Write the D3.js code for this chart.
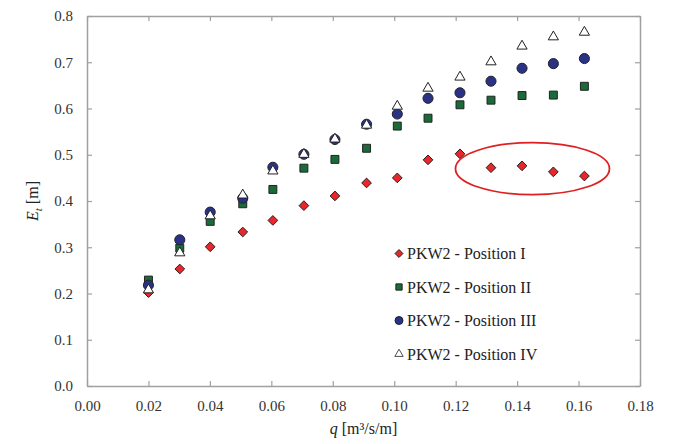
<!DOCTYPE html>
<html>
<head>
<meta charset="utf-8">
<script src="https://cdn.jsdelivr.net/npm/d3@7"></script>
<style>
body { margin: 0; background: #fff; }
</style>
</head>
<body>
<div id="chart"></div>
<script>
// discharge per unit width q [m3/s/m]
var qVals = [0.0200, 0.0302, 0.0401, 0.0507, 0.0605, 0.0706, 0.0807, 0.0910, 0.1010, 0.1110, 0.1214, 0.1315, 0.1416, 0.1518, 0.1619];
// Et [m] per position
var posI   = [0.202, 0.253, 0.301, 0.333, 0.358, 0.390, 0.411, 0.439, 0.450, 0.489, 0.502, 0.472, 0.476, 0.463, 0.454];
var posII  = [0.229, 0.298, 0.356, 0.394, 0.425, 0.471, 0.490, 0.514, 0.562, 0.579, 0.608, 0.618, 0.628, 0.629, 0.648];
var posIII = [0.218, 0.316, 0.376, 0.406, 0.473, 0.501, 0.533, 0.566, 0.588, 0.622, 0.634, 0.659, 0.687, 0.697, 0.708];
var posIV  = [0.210, 0.290, 0.370, 0.415, 0.467, 0.503, 0.536, 0.566, 0.607, 0.646, 0.670, 0.703, 0.737, 0.757, 0.767];
var seriesNames = ["PKW2 - Position I", "PKW2 - Position II", "PKW2 - Position III", "PKW2 - Position IV"];
var xTicks = [0, 0.02, 0.04, 0.06, 0.08, 0.10, 0.12, 0.14, 0.16, 0.18];
var yTicks = [0, 0.1, 0.2, 0.3, 0.4, 0.5, 0.6, 0.7, 0.8];

var serif = "Liberation Serif";
var width = 673, height = 444;
var margin = {top: 16, right: 33, bottom: 58, left: 87};

var svg = d3.select("#chart").append("svg")
    .attr("width", width)
    .attr("height", height)
    .attr("font-family", serif);

var x = d3.scaleLinear().domain([0, 0.18]).range([margin.left, width - margin.right]);
var y = d3.scaleLinear().domain([0, 0.8]).range([height - margin.bottom, margin.top]);

var axisColor = "#a0a0a0";

// frame + inward ticks on all sides
function styleAxis(g) {
    g.attr("font-family", serif).attr("font-size", 15);
    g.select(".domain").attr("stroke", axisColor).attr("stroke-width", 1.5);
    g.selectAll(".tick line").attr("stroke", axisColor).attr("stroke-width", 1.2);
    g.selectAll(".tick text").attr("fill", "#333");
}

svg.append("g")
    .attr("transform", "translate(0," + y(0) + ")")
    .call(d3.axisBottom(x).tickValues(xTicks).tickSizeInner(-5).tickSizeOuter(0).tickPadding(14).tickFormat(d3.format(".2f")))
    .call(styleAxis);

svg.append("g")
    .attr("transform", "translate(0," + y(0.8) + ")")
    .call(d3.axisTop(x).tickValues(xTicks).tickSizeInner(-5).tickSizeOuter(0).tickFormat(""))
    .call(styleAxis);

svg.append("g")
    .attr("transform", "translate(" + x(0) + ",0)")
    .call(d3.axisLeft(y).tickValues(yTicks).tickSizeInner(-5).tickSizeOuter(0).tickPadding(14).tickFormat(d3.format(".1f")))
    .call(styleAxis);

svg.append("g")
    .attr("transform", "translate(" + x(0.18) + ",0)")
    .call(d3.axisRight(y).tickValues(yTicks).tickSizeInner(-5).tickSizeOuter(0).tickFormat(""))
    .call(styleAxis);

// axis titles
var yt = svg.append("text")
    .attr("transform", "translate(38," + y(0.4) + ") rotate(-90)")
    .attr("text-anchor", "middle")
    .attr("fill", "#222")
    .attr("font-family", serif)
    .attr("font-size", 16);
yt.append("tspan").attr("font-style", "italic").text("E");
yt.append("tspan").attr("font-style", "italic").attr("font-size", 11).attr("dy", 4).text("t");
yt.append("tspan").attr("dy", -4).text(" [m]");

var xt = svg.append("text")
    .attr("x", x(0.09))
    .attr("y", 434)
    .attr("text-anchor", "middle")
    .attr("fill", "#222")
    .attr("font-family", serif)
    .attr("font-size", 16);
xt.append("tspan").attr("font-style", "italic").text("q");
xt.append("tspan").text(" [m³/s/m]");

var symbols = [d3.symbolDiamond2, d3.symbolSquare2, d3.symbolCircle, d3.symbolTriangle2];
var fills = ["#e8262b", "#1a6b3a", "#2a3288", "#ffffff"];
var sizes = [60, 80, 80, 75];
var allSeries = [posI, posII, posIII, posIV];

allSeries.forEach(function(vals, i) {
    var pts = qVals.map(function(q, k) { return {q: q, v: vals[k]}; });
    var sym = d3.symbol().type(symbols[i]).size(sizes[i]);
    svg.append("g").selectAll("path")
        .data(pts)
        .enter()
        .append("path")
        .attr("d", sym)
        .attr("transform", function(d) {
            var dy = i == 3 ? 1 : 0;
            return "translate(" + x(d.q) + "," + (y(d.v) + dy) + ")";
        })
        .attr("fill", fills[i])
        .attr("stroke", "#222")
        .attr("stroke-width", 1);
});

// highlight ellipse
svg.append("ellipse")
    .attr("cx", x(0.145))
    .attr("cy", y(0.47))
    .attr("rx", 77)
    .attr("ry", 26)
    .attr("fill", "none")
    .attr("stroke", "#e02020")
    .attr("stroke-width", 1.8);

// legend
var legend = svg.append("g");
seriesNames.forEach(function(name, i) {
    var row = legend.append("g").attr("transform", "translate(399," + (253.5 + i * 33.5) + ")");
    row.append("path")
        .attr("d", d3.symbol().type(symbols[i]).size(i == 0 ? 40 : 50))
        .attr("fill", fills[i])
        .attr("stroke", "#222")
        .attr("stroke-width", i == 3 ? 0.8 : 1);
    row.append("text")
        .attr("x", 8)
        .attr("y", 5.5)
        .attr("fill", "#222")
        .attr("font-family", serif)
        .attr("font-size", 16)
        .text(name);
});
</script>
</body>
</html>
